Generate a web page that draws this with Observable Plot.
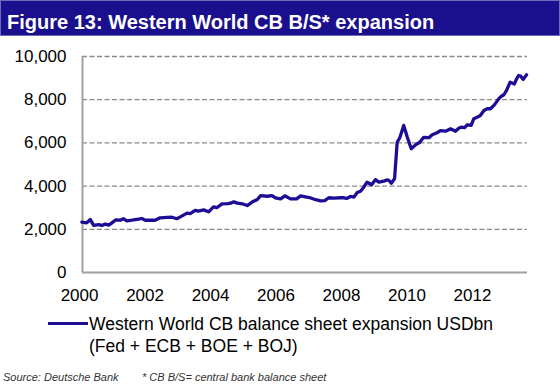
<!DOCTYPE html>
<html>
<head>
<meta charset="utf-8">
<script src="https://cdn.jsdelivr.net/npm/d3@7"></script>
<script src="https://cdn.jsdelivr.net/npm/@observablehq/plot@0.6"></script>
<style>
  html, body { margin: 0; padding: 0; background: #fff; }
  body { width: 560px; height: 384px; position: relative; overflow: hidden; font-family: "Liberation Sans", Arial, sans-serif; }
  #titlebar { position: absolute; left: 0; top: 0; width: 558px; height: 34px; background: #1a0f8c; border: 1px solid #6b6bb8; }
  #title { position: absolute; left: 7px; top: 3.5px; line-height: 36px; font-size: 20px; font-weight: bold; color: #fff; white-space: nowrap; }
  #chart { position: absolute; left: 0; top: 37px; }
  #legline { position: absolute; left: 48px; top: 321.5px; width: 40px; height: 3px; background: #1d0d96; }
  #legtext { position: absolute; left: 89px; top: 313px; font-size: 17.5px; line-height: 22px; color: #000; white-space: nowrap; }
  .src { position: absolute; top: 370px; font-size: 11px; line-height: 14px; font-style: italic; color: #333; white-space: nowrap; }
</style>
</head>
<body>
<div id="titlebar"></div>
<div id="title">Figure 13: Western World CB B/S* expansion</div>
<div id="chart"></div>
<div id="legline"></div>
<div id="legtext">Western World CB balance sheet expansion USDbn<br>(Fed + ECB + BOE + BOJ)</div>
<div class="src" style="left:3px">Source: Deutsche Bank</div>
<div class="src" style="left:142px">* CB B/S= central bank balance sheet</div>
<script>
const xTicks = [2000, 2002, 2004, 2006, 2008, 2010, 2012];
const yTicks = [0, 2000, 4000, 6000, 8000, 10000];

const years = [2000.07, 2000.22, 2000.33, 2000.43, 2000.58, 2000.68, 2000.78, 2000.89, 2000.99, 2001.11,
  2001.24, 2001.34, 2001.44, 2001.60, 2001.80, 2001.90, 2002.01, 2002.31, 2002.46, 2002.67,
  2002.82, 2002.97, 2003.12, 2003.28, 2003.38, 2003.53, 2003.63, 2003.79, 2003.94, 2004.09,
  2004.19, 2004.35, 2004.53, 2004.61, 2004.71, 2004.82, 2004.97, 2005.12, 2005.27, 2005.43,
  2005.53, 2005.73, 2005.88, 2005.98, 2006.14, 2006.27, 2006.44, 2006.63, 2006.75, 2006.90,
  2007.02, 2007.21, 2007.36, 2007.49, 2007.61, 2007.76, 2007.97, 2008.07, 2008.17, 2008.27,
  2008.38, 2008.48, 2008.58, 2008.68, 2008.78, 2008.92, 2009.04, 2009.14, 2009.29, 2009.40,
  2009.45, 2009.52, 2009.62, 2009.70, 2009.78, 2009.90, 2010.01, 2010.13, 2010.26, 2010.39,
  2010.51, 2010.67, 2010.77, 2010.92, 2011.02, 2011.18, 2011.33, 2011.48, 2011.58, 2011.65,
  2011.76, 2011.84, 2011.96, 2012.04, 2012.14, 2012.24, 2012.35, 2012.45, 2012.55, 2012.67,
  2012.80, 2012.88, 2012.96, 2013.04, 2013.15, 2013.28, 2013.34, 2013.41, 2013.47, 2013.55,
  2013.65];
const values = [2330, 2300, 2450, 2180, 2220, 2180, 2240, 2190, 2300, 2440,
  2420, 2490, 2390, 2420, 2470, 2500, 2420, 2420, 2530, 2550,
  2560, 2490, 2610, 2750, 2730, 2880, 2840, 2900, 2810, 3040,
  3000, 3180, 3190, 3210, 3270, 3210, 3180, 3100, 3260, 3380,
  3560, 3530, 3560, 3460, 3410, 3550, 3410, 3410, 3550, 3500,
  3470, 3370, 3320, 3330, 3460, 3440, 3460, 3460, 3430, 3520,
  3490, 3700, 3760, 3950, 4180, 4060, 4300, 4180, 4230, 4290,
  4260, 4130, 4340, 6030, 6240, 6810, 6260, 5730, 5910, 6030,
  6260, 6240, 6380, 6470, 6570, 6540, 6650, 6540, 6680, 6730,
  6710, 6840, 6810, 7120, 7190, 7270, 7500, 7580, 7580, 7760,
  8040, 8160, 8230, 8430, 8810, 8730, 8940, 9120, 9090, 8940,
  9150, 9200, 9300];

const data = years.map((x, i) => ({x, y: values[i]}));
const xDomain = [2000.09, 2013.68];

const chart = Plot.plot({
  width: 560,
  height: 270,
  marginLeft: 82,
  marginRight: 33,
  marginTop: 19,
  marginBottom: 35,
  x: {domain: xDomain, axis: null},
  y: {domain: [0, 10000], axis: null},
  style: {fontFamily: '"Liberation Sans", Arial, sans-serif', fontSize: "17px", color: "#000", background: "white", overflow: "visible"},
  marks: [
    Plot.ruleY(yTicks.filter(d => d > 0), {stroke: "#8a8a8a", strokeWidth: 1.3, strokeDasharray: "5,2.5"}),
    Plot.ruleX([xDomain[0]], {y1: 0, y2: 10000, stroke: "#a0a0a0", strokeWidth: 2}),
    Plot.ruleY([0], {stroke: "#a0a0a0", strokeWidth: 2}),
    Plot.axisY({ticks: yTicks, tickSize: 0, tickPadding: 16, tickFormat: d3.format(","), fontSize: 17, label: null}),
    Plot.text(xTicks, {x: d => d, y: 0, dy: 23, text: d => String(d), fontSize: 17, fill: "#000"}),
    Plot.line(data, {x: "x", y: "y", stroke: "#1d0d96", strokeWidth: 3.3, strokeLinejoin: "round", strokeLinecap: "round"})
  ]
});
document.getElementById("chart").appendChild(chart);
</script>
</body>
</html>
